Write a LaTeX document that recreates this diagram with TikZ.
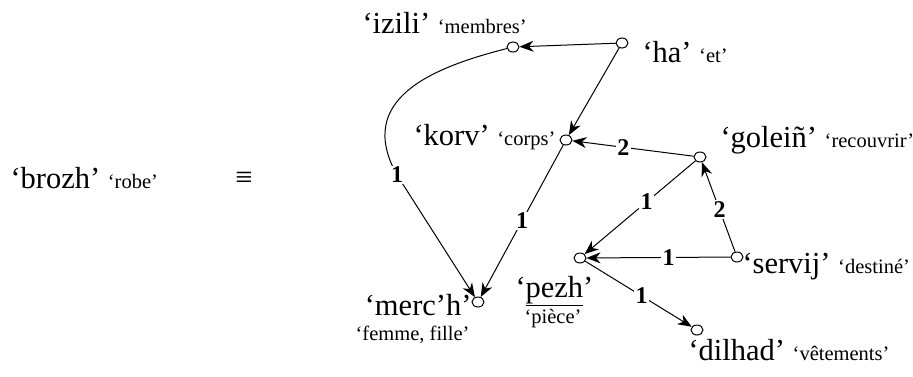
\documentclass[tikz,border=0pt]{standalone}
\usepackage{fontspec}
\setmainfont{Liberation Serif}
\usetikzlibrary{arrows.meta,shapes.geometric}
\newcommand\lexfont{\fontsize{30.5}{34}\selectfont}
\newcommand\glossfont{\fontsize{20.5}{24}\selectfont}
\newcommand\lex[2]{‘#1’ {\glossfont ‘#2’}}

\begin{document}
\begin{tikzpicture}[x=1pt, y=-1pt, line width=1pt,
  pt/.style={draw, ellipse, minimum width=12pt, minimum height=10pt, inner sep=0pt},
  word/.style={font=\lexfont, inner sep=0pt},
  gloss/.style={font=\glossfont, inner sep=0pt},
  conn/.style={-{Stealth[length=14pt,width=11pt,inset=4.5pt]}},
  lbl/.style={font=\fontsize{24}{26}\selectfont\bfseries, fill=white, inner sep=1.5pt}]
  \useasboundingbox (0,0) rectangle (913,376);
  \node[pt] (izili) at (513,47) {};
  \node[pt] (ha) at (622,43) {};
  \node[pt] (korv) at (566,140) {};
  \node[pt] (golein) at (700,157) {};
  \node[pt] (pezh) at (580,258) {};
  \node[pt] (servij) at (737,257) {};
  \node[pt] (merch) at (478,302) {};
  \node[pt] (dilhad) at (697,330) {};
  \coordinate (izbend) at (397,175);
  \node[word, anchor=base west] (brozhw) at (10,188) {\lex{brozh}{robe}};
  \node[word] (equiv) at (244,180) {≡};
  \node[word, anchor=base west] (iziliw) at (362,33) {\lex{izili}{membres}};
  \node[word, anchor=base west] (haw) at (642,62) {\lex{ha}{et}};
  \node[word, anchor=base west] (korvw) at (413,145) {\lex{korv}{corps}};
  \node[word, anchor=base west] (goleinw) at (720,147) {\lex{goleiñ}{recouvrir}};
  \node[word, anchor=base west] (servijw) at (742,273) {\lex{servij}{destiné}};
  \node[word, anchor=base east] (merchw) at (472,315) {‘merc’h’};
  \node[gloss, anchor=base east] (merchg) at (470,340) {‘femme, fille’};
  \node[word, anchor=base west] (pezhw) at (515,297) {‘\underline{pezh}’};
  \node[gloss, anchor=base] (pezhg) at (553,323) {‘pièce’};
  \node[word, anchor=base west] (dilhadw) at (688,360) {\lex{dilhad}{vêtements}};
  \draw[conn] (ha) -- (izili);
  \draw[conn] (ha) -- (korv);
  \draw[conn] (golein) -- node[lbl, pos=0.58] {2} (korv);
  \draw[conn] (golein) -- node[lbl, pos=0.44] {1} (pezh);
  \draw[conn] (servij) -- node[lbl, pos=0.47] {2} (golein);
  \draw[conn] (servij) -- node[lbl, pos=0.43] {1} (pezh);
  \draw[conn] (pezh) -- node[lbl, pos=0.53] {1} (dilhad);
  \draw[conn] (korv) -- node[lbl] {1} (merch);
  \draw[conn] (izili) .. controls (430,68) and (355,100) .. (izbend) node[lbl] {1} -- (merch);
\end{tikzpicture}
\end{document}
